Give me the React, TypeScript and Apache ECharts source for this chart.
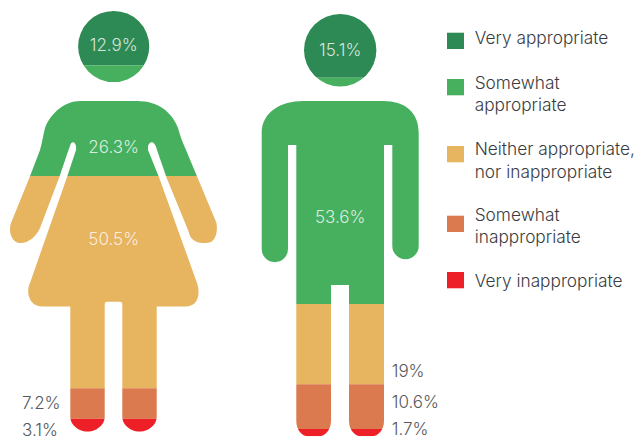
import React, { useEffect, useRef } from "react";
import * as echarts from "echarts";

const categories = [
  "Very appropriate",
  "Somewhat\nappropriate",
  "Neither appropriate,\nnor inappropriate",
  "Somewhat\ninappropriate",
  "Very inappropriate",
];
const womanValues = [12.9, 26.3, 50.5, 7.2, 3.1];
const manValues = [15.1, 53.6, 19, 10.6, 1.7];
const colors = ["#2E8A55", "#47B05F", "#E7B45F", "#DB7A4E", "#ED2028"];

const FONT = "Inter";
const INSIDE = "rgba(255,255,255,0.8)";
const OUTSIDE = "#55575a";

const circle = (cx: number, cy: number, r: number) =>
  `M${cx - r} ${cy}A${r} ${r} 0 1 0 ${cx + r} ${cy}A${r} ${r} 0 1 0 ${cx - r} ${cy}Z`;

const womanPath =
  circle(113.7, 46.5, 35.6) +
  "M80 101L137 101C158 101 172 112 178 128C180 136 183 143 186 150L197.7 178L216.5 223C218 233 215 240 211 242C205 244 194 244 190 236L188 230" +
  "L166.7 178L157 150C155 141 150 140 148 146L148 150L159.3 178L197 283C200 291 200 306.5 185 306.5L156.7 306.5L156.7 417" +
  "C156.7 425 148 431.7 139.5 431.7C131 431.7 122.3 425 122.3 417L122.3 304Q122.3 301.7 120 301.7L107 301.7Q104.7 301.7 104.7 304" +
  "L104.7 417C104.7 425 96 431.7 87.5 431.7C79 431.7 70.3 425 70.3 417L70.3 306.5L43 306.5C28 306.5 26 291 30 283" +
  "L66.7 178L76 150C77 141 71 140 70 146L68.5 150L59 178L40 228C37 235 30 243 20 243C12 243 8 232 11 223L29.3 178L40 150C42 143 43 136 45 128" +
  "C51 112 66 101 80 101Z";

const manPath =
  circle(340.2, 50.2, 36.2) +
  "M303 101L383 101C405 101 418.7 112 418.7 133L418.7 246A13.2 13.2 0 0 1 392.3 246L392.3 145L384 145L384 421" +
  "C384 430 378 436.3 372 436.3L361 436.3C355 436.3 349 430 349 421L349 285L331 285L331 421" +
  "C331 430 325 436.3 319 436.3L308 436.3C302 436.3 296.3 430 296.3 421L296.3 145L288 145L288 249" +
  "A13.15 13.15 0 0 1 261.7 249L261.7 133C261.7 112 281 101 303 101Z";

// text placement for each band: [x, y, align, colour]
const womanLabels: any[] = [
  [113.7, 45, "center", INSIDE],
  [113.7, 147, "center", INSIDE],
  [113.7, 239, "center", INSIDE],
  [22, 403, "left", OUTSIDE],
  [22, 430, "left", OUTSIDE],
];
const manLabels: any[] = [
  [340.2, 50, "center", INSIDE],
  [340.2, 217, "center", INSIDE],
  [391.7, 371, "left", OUTSIDE],
  [391.7, 402, "left", OUTSIDE],
  [391.7, 429, "left", OUTSIDE],
];
const legendSwatchTops = [32.7, 79, 146, 215.7, 272];
const legendLineY = [[37], [82, 104], [148, 171], [214, 236], [280]];

const stackRows = (values: number[]) => {
  let sum = 0;
  return values.map((v) => {
    const row = [0.5, sum, sum + v, v];
    sum += v;
    return row;
  });
};

const figureSeries = (
  values: number[],
  outline: string,
  labels: any[],
  gridIndex: number
) => ({
  type: "custom",
  xAxisIndex: gridIndex,
  yAxisIndex: gridIndex,
  clip: false,
  silent: true,
  encode: { x: 0, y: [1, 2] },
  data: stackRows(values),
  renderItem: (params: any, api: any) => {
    const i = params.dataIndex;
    const a = api.coord([0, api.value(1)]);
    const b = api.coord([1, api.value(2)]);
    const [lx, ly, align, fill] = labels[i];
    return {
      type: "group",
      children: [
        {
          type: "rect",
          shape: { x: a[0], y: a[1], width: b[0] - a[0], height: b[1] - a[1] },
          style: { fill: colors[i] },
          clipPath: { type: "path", shape: { pathData: outline } },
        },
        {
          type: "text",
          z2: 10,
          style: {
            x: lx,
            y: ly,
            text: `${api.value(3)}%`,
            fill,
            fontFamily: FONT,
            fontWeight: 300,
            fontSize: 17,
            align,
            verticalAlign: "middle",
          },
        },
      ],
    };
  },
});

const legendGraphics = () => {
  const out: any[] = [];
  categories.forEach((name, i) => {
    out.push({
      type: "rect",
      shape: { x: 447, y: legendSwatchTops[i], width: 17, height: 16.3 },
      style: { fill: colors[i] },
    });
    name.split("\n").forEach((line, k) => {
      out.push({
        type: "text",
        x: 474.7,
        y: legendLineY[i][k],
        style: {
          text: line,
          fill: "#3a3c3f",
          fontFamily: FONT,
          fontWeight: 300,
          fontSize: 17.3,
          align: "left",
          verticalAlign: "middle",
        },
      });
    });
  });
  return out;
};

export default function App() {
  const ref = useRef<HTMLDivElement>(null);
  useEffect(() => {
    const chart = echarts.init(ref.current!, undefined, { renderer: "svg" });
    const hiddenX = (gridIndex: number) => ({
      type: "value",
      gridIndex,
      min: 0,
      max: 1,
      show: false,
    });
    const hiddenY = (gridIndex: number) => ({
      type: "value",
      gridIndex,
      inverse: true,
      min: 0,
      max: 100,
      show: false,
    });
    chart.setOption({
      animation: false,
      backgroundColor: "#ffffff",
      grid: [
        { left: 0, top: 11, width: 230, height: 420.7 },
        { left: 240, top: 14, width: 190, height: 422.3 },
      ],
      xAxis: [hiddenX(0), hiddenX(1)],
      yAxis: [hiddenY(0), hiddenY(1)],
      series: [
        figureSeries(womanValues, womanPath, womanLabels, 0),
        figureSeries(manValues, manPath, manLabels, 1),
      ],
      graphic: legendGraphics(),
    });
    return () => chart.dispose();
  }, []);
  return (
    <div
      ref={ref}
      style={{ position: "fixed", left: 0, top: 0, width: 636, height: 439 }}
    />
  );
}
